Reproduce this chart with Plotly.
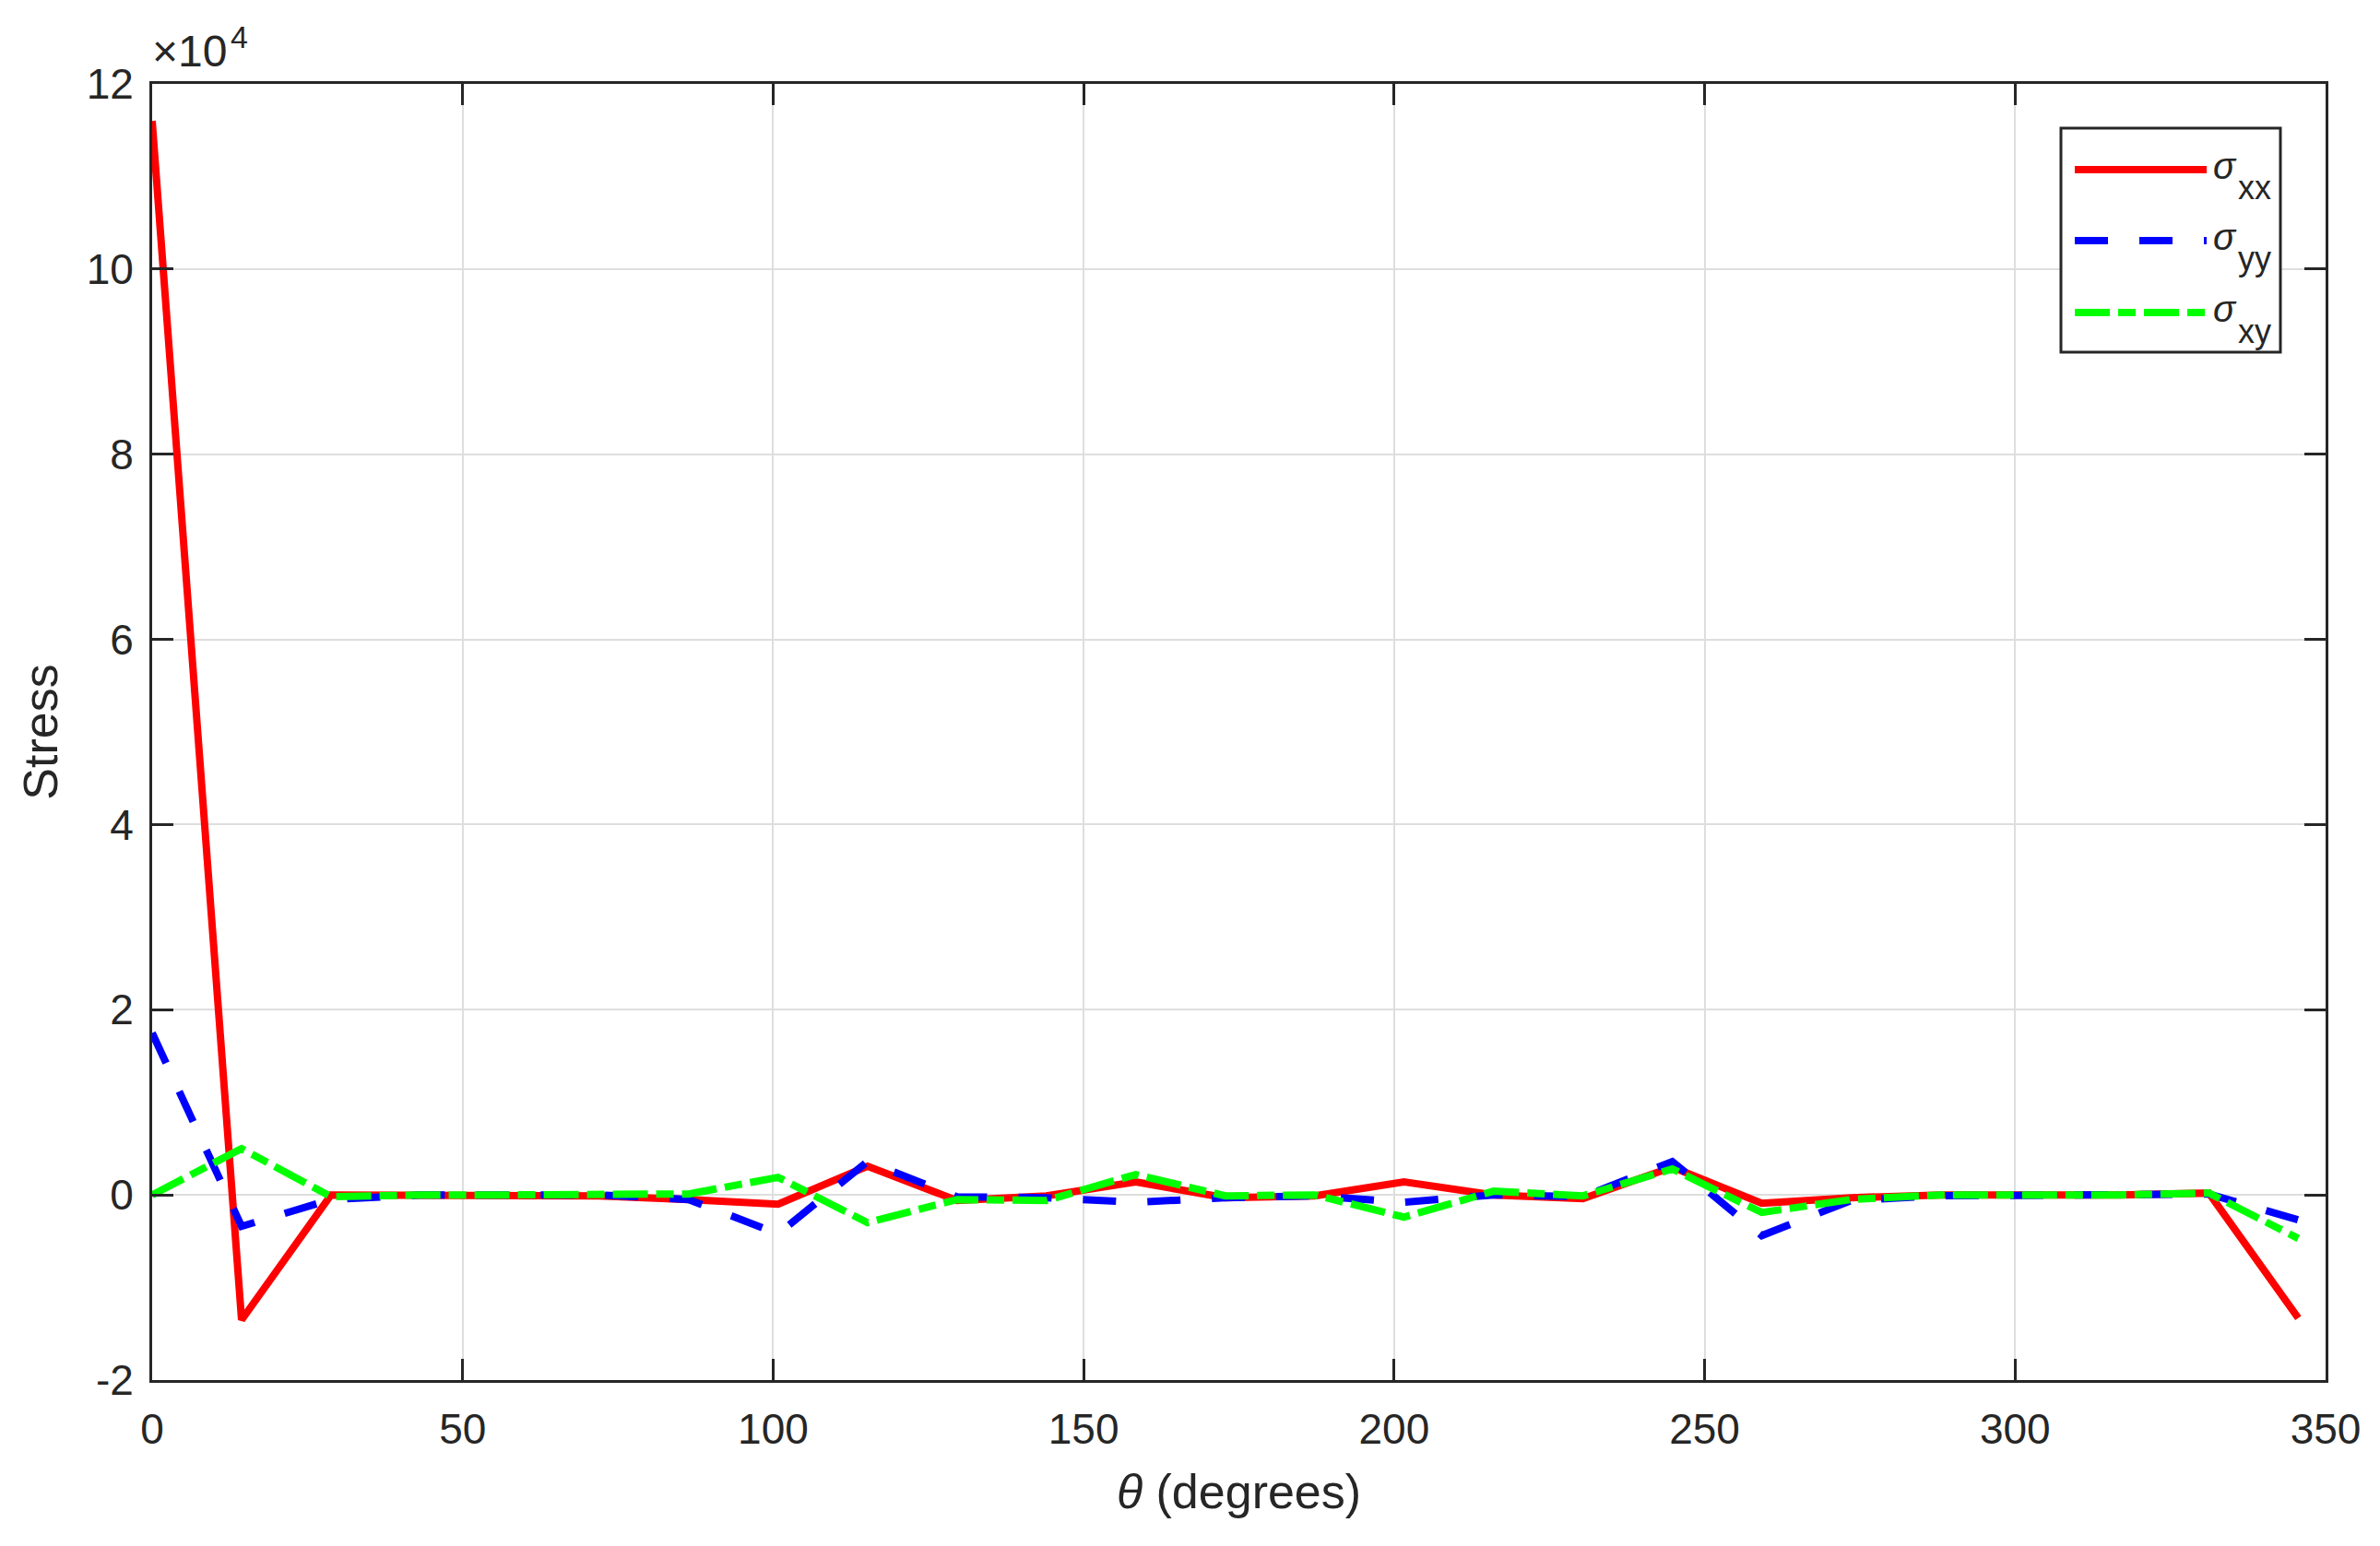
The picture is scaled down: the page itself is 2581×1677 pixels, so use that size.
import plotly.graph_objects as go

# angles (degrees) and stress components
theta = [0, 14.4, 28.8, 43.2, 57.6, 72, 86.4, 100.8, 115.2, 129.6, 144, 158.4,
         172.8, 187.2, 201.6, 216, 230.4, 244.8, 259.2, 273.6, 288, 302.4,
         316.8, 331.2, 345.6]

sigma_xx = [116000, -13500, 0, 0, 0, -100, -500, -1000, 3100, -600, -100, 1400,
            -300, -100, 1400, 0, -400, 3000, -900, -300, 0, 0, 0, 200, -13300]
sigma_yy = [17500, -3400, -500, 0, 0, 0, -500, -4200, 3600, -200, -300, -800,
            -300, -100, -800, 0, -200, 3600, -4400, -600, -100, 0, 0, 100, -2700]
sigma_xy = [0, 5000, -200, 0, 0, 0, 100, 1900, -3000, -500, -600, 2200,
            -100, 0, -2400, 400, -100, 2800, -1900, -500, 0, 0, 0, 200, -4700]

y_ticks = [-20000, 0, 20000, 40000, 60000, 80000, 100000, 120000]
y_labels = ["-2", "0", "2", "4", "6", "8", "10", "12"]
x_ticks = [0, 50, 100, 150, 200, 250, 300, 350]

subs = ["xx", "yy", "xy"]
colors = ["#ff0000", "#0000ff", "#00ff00"]
dashes = ["solid", "36px,34px", "38px,9px,19px,9px"]

# page body has an 8px margin, so figure coords = page coords - 8
OFF = 8
W, H = 2565, 1661
L, R, T, B = 165 - OFF, 2522 - OFF, 91 - OFF, 1497 - OFF
FONT = "Liberation Sans, Arial, Helvetica, sans-serif"
INK = "#262626"


def px(x):
    return (x - OFF - L) / (R - L)


def py(y):
    return (B - (y - OFF)) / (B - T)


fig = go.Figure()
for ys, s, c, d in zip([sigma_xx, sigma_yy, sigma_xy], subs, colors, dashes):
    fig.add_trace(go.Scatter(x=theta, y=ys, mode="lines", name="σ" + s,
                             line=dict(color=c, width=8, dash=d),
                             showlegend=False))

axis_common = dict(showline=True, linecolor=INK, linewidth=3, mirror="ticks",
                   ticks="inside", ticklen=23, tickwidth=3, tickcolor=INK,
                   showgrid=True, gridcolor="#dedede", gridwidth=2,
                   zeroline=False, tickfont=dict(family=FONT, size=46, color=INK))

fig.update_xaxes(range=[0, 350], tickvals=x_ticks, ticklabelstandoff=11,
                 title=dict(text="<i>θ</i> (degrees)", standoff=25,
                            font=dict(family=FONT, size=52, color=INK)),
                 **axis_common)
fig.update_yaxes(range=[-20000, 120000], tickvals=y_ticks, ticktext=y_labels,
                 ticklabelstandoff=8,
                 title=dict(text="Stress", standoff=15,
                            font=dict(family=FONT, size=52, color=INK)),
                 **axis_common)

# exponent label
fig.add_annotation(x=px(163), y=py(84), xref="paper", yref="paper",
                   xanchor="left", yanchor="bottom", showarrow=False,
                   text="×10", font=dict(family=FONT, size=48, color=INK))
fig.add_annotation(x=px(248), y=py(40), xref="paper", yref="paper",
                   xanchor="left", yanchor="middle", showarrow=False,
                   text="4", font=dict(family=FONT, size=34, color=INK))

# legend box drawn by hand (MATLAB style long line samples)
fig.add_shape(type="rect", xref="paper", yref="paper",
              x0=px(2235), x1=px(2473), y0=py(382), y1=py(139),
              line=dict(color=INK, width=3), fillcolor="white")
rows = [184, 261, 339]
for yy, s, c, d in zip(rows, subs, colors, dashes):
    fig.add_shape(type="line", xref="paper", yref="paper",
                  x0=px(2250), x1=px(2393), y0=py(yy), y1=py(yy),
                  line=dict(color=c, width=8, dash=d))
    fig.add_annotation(x=px(2398), y=py(yy - 4), xref="paper", yref="paper",
                       xanchor="left", yanchor="middle", showarrow=False,
                       text="<i>σ</i>", font=dict(family=FONT, size=40, color=INK))
    fig.add_annotation(x=px(2425), y=py(yy + 20), xref="paper", yref="paper",
                       xanchor="left", yanchor="middle", showarrow=False,
                       text=s, font=dict(family=FONT, size=36, color=INK))

fig.update_layout(width=W, height=H, plot_bgcolor="white", paper_bgcolor="white",
                  margin=dict(l=L, r=W - R, t=T, b=H - B, autoexpand=False),
                  font=dict(family=FONT, color=INK))

fig.write_html("out.html")
